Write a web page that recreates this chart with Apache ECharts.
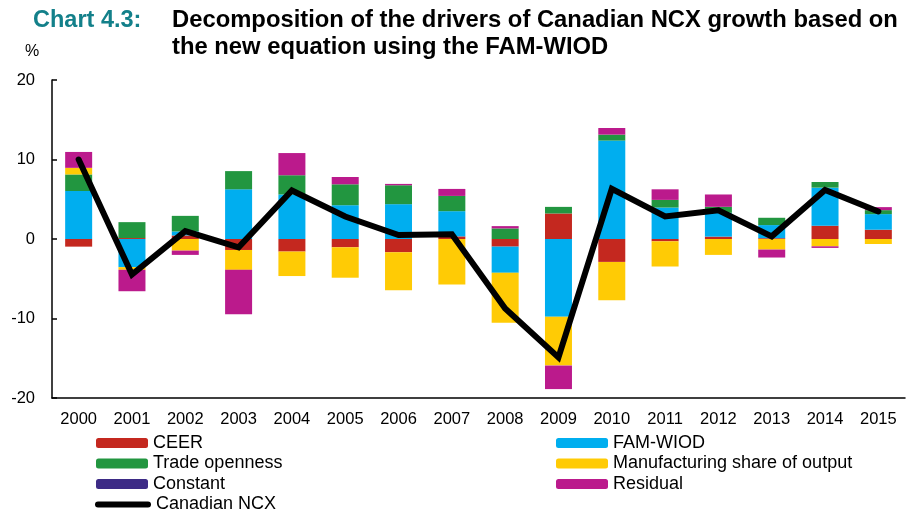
<!DOCTYPE html>
<html>
<head>
<meta charset="utf-8">
<script src="https://cdn.jsdelivr.net/npm/echarts@6/dist/echarts.min.js"></script>
<style>
html,body{margin:0;padding:0;background:#fff;}
#chart{width:909px;height:512px;}
</style>
</head>
<body>
<div id="chart"></div>
<script>
var years = ['2000','2001','2002','2003','2004','2005','2006','2007','2008','2009','2010','2011','2012','2013','2014','2015'];
var ceer   = [-0.96, 0.12, 0.45, -1.38, -1.58, -1.04, -1.67, 0.33, -0.96, 3.21, -2.88, -0.29, 0.30, 0.10, 1.67, 1.17];
var famWiod= [6.04, -3.54, 0.50, 6.25, 5.60, 4.25, 4.38, 3.17, -3.29, -9.79, 12.38, 3.96, 3.00, 1.65, 4.79, 1.96];
var trade  = [2.08, 2.00, 1.96, 2.29, 2.42, 2.63, 2.38, 1.92, 1.33, 0.83, 0.75, 0.96, 0.75, 0.92, 0.71, 0.50];
var manuf  = [0.83, -0.33, -1.46, -2.50, -3.08, -3.83, -4.79, -5.71, -6.29, -6.13, -4.83, -3.17, -2.00, -1.33, -0.92, -0.63];
var constant = [0, 0, 0, 0, 0, 0, 0, 0, 0, 0, 0, 0, 0, 0, 0, 0];
var residual = [2.00, -2.70, -0.54, -5.60, 2.79, 0.92, 0.17, 0.88, 0.29, -2.96, 0.83, 1.33, 1.55, -1.00, -0.20, 0.38];
var ncx    = [10.0, -4.46, 1.0, -1.04, 6.1, 2.83, 0.5, 0.6, -8.75, -14.9, 6.3, 2.83, 3.6, 0.33, 6.17, 3.46];
var yTicks = [-20, -10, 0, 10, 20];

var FONT = '"Liberation Sans", Arial, sans-serif';
var colors = {
  ceer:'#C4281F', fam:'#00AEEF', trade:'#229640', manuf:'#FFCB05', constant:'#3D2B86', residual:'#BB1A8C'
};
function barSeries(name, data, color){
  return {name:name, type:'bar', stack:'total', data:data, barWidth:27,
    itemStyle:{color:color}, emphasis:{disabled:true}, z:2};
}
function leg(name, left, centerY, opts){
  opts = opts || {};
  return {
    orient:'horizontal', left:left, top:centerY - 9.5, padding:0,
    itemWidth:opts.w || 52, itemHeight:opts.h || 10, itemGap:5,
    textStyle:{fontSize:18, fontFamily:FONT, color:'#000', lineHeight:19},
    selectedMode:false,
    data:[opts.icon ? {name:name, icon:opts.icon} : name]
  };
}
var lineIcon = 'path://M3,0 L53,0 A3,3 0 0 1 53,6 L3,6 A3,3 0 0 1 3,0 Z';
var chart = echarts.init(document.getElementById('chart'), null, {renderer:'canvas'});
var option = {
  animation:false,
  textStyle:{fontFamily:FONT},
  title:[
    {text:'Chart 4.3:', left:33, top:7, padding:0, textStyle:{color:'#13808A', fontSize:23.5, fontWeight:'bold', fontFamily:FONT, lineHeight:27}},
    {text:'Decomposition of the drivers of Canadian NCX growth based on\nthe new equation using the FAM-WIOD', left:172, top:7, padding:0,
     textStyle:{color:'#000', fontSize:23.8, fontWeight:'bold', lineHeight:27, fontFamily:FONT}}
  ],
  graphic:[
    {type:'text', left:25, top:44, style:{text:'%', fontSize:16, fontFamily:FONT, fill:'#000'}}
  ],
  grid:{left:52, right:4, top:80, bottom:114, containLabel:false},
  legend:[
    leg('CEER', 96, 443),
    leg('Trade openness', 96, 463.5),
    leg('Constant', 96, 484),
    leg('Canadian NCX', 95, 504.5, {w:56, h:6, icon:lineIcon}),
    leg('FAM-WIOD', 556, 443),
    leg('Manufacturing share of output', 556, 463.5),
    leg('Residual', 556, 484)
  ],
  xAxis:{
    type:'category', data:years, boundaryGap:true,
    axisLine:{onZero:false, lineStyle:{color:'#000', width:1.5}},
    axisTick:{inside:true, length:5, alignWithLabel:false, lineStyle:{color:'#000', width:1.5}},
    axisLabel:{color:'#000', fontSize:16.5, fontFamily:FONT, margin:13, interval:0},
    splitLine:{show:false}
  },
  yAxis:{
    type:'value', min:yTicks[0], max:yTicks[yTicks.length-1], interval:10,
    axisLine:{show:true, lineStyle:{color:'#000', width:1.5}},
    axisTick:{show:true, inside:true, length:5, lineStyle:{color:'#000', width:1.5}},
    axisLabel:{color:'#000', fontSize:16.5, fontFamily:FONT, margin:17},
    splitLine:{show:false}
  },
  series:[
    barSeries('CEER', ceer, colors.ceer),
    barSeries('FAM-WIOD', famWiod, colors.fam),
    barSeries('Trade openness', trade, colors.trade),
    barSeries('Manufacturing share of output', manuf, colors.manuf),
    barSeries('Constant', constant, colors.constant),
    barSeries('Residual', residual, colors.residual),
    {name:'Canadian NCX', type:'line', data:ncx, symbol:'none', z:5,
     lineStyle:{color:'#000', width:6, cap:'round', join:'miter'}, itemStyle:{color:'#000'},
     emphasis:{disabled:true}}
  ]
};
chart.setOption(option);
</script>
</body>
</html>
